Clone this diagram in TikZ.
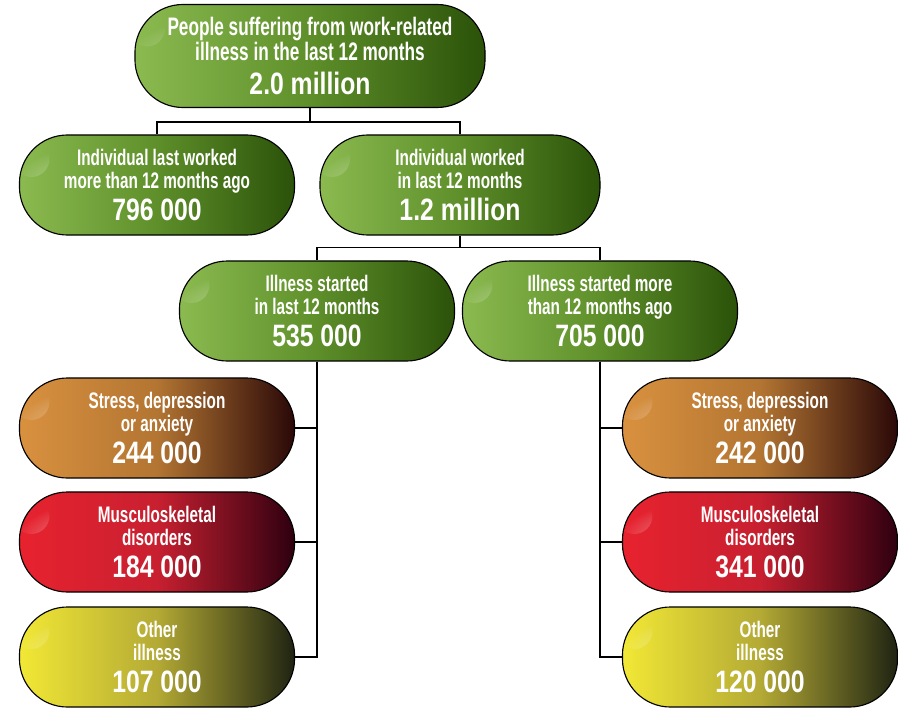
\documentclass[tikz,border=0pt]{standalone}
\usepackage{fontspec}
\newfontfamily\boxfont[FakeStretch=0.68]{Liberation Sans}
\newfontfamily\numfont[FakeStretch=0.8]{Liberation Sans}
\usetikzlibrary{fadings}

\definecolor{greenL}{HTML}{8BBA50}
\definecolor{greenM}{HTML}{5E8F2A}
\definecolor{greenR}{HTML}{2B5209}
\definecolor{orangeL}{HTML}{D9913F}
\definecolor{orangeM}{HTML}{B37532}
\definecolor{orangeR}{HTML}{2A0808}
\definecolor{redL}{HTML}{E8222F}
\definecolor{redM}{HTML}{C82030}
\definecolor{redR}{HTML}{2E0010}
\definecolor{yellowL}{HTML}{F2E835}
\definecolor{yellowM}{HTML}{B4AA35}
\definecolor{yellowR}{HTML}{1F2412}

\tikzfading[name=glint fade, inner color=transparent!0, outer color=transparent!100]

\newcommand\pillfont{\boxfont\bfseries\fontsize{16}{16.3}\selectfont\lineskiplimit=-50pt\relax}
\newcommand\topfont{\boxfont\bfseries\fontsize{18}{17.7}\selectfont\lineskiplimit=-50pt\relax}
\newcommand\bignum[1]{\\[7pt]{\numfont\bfseries\fontsize{22}{24}\selectfont #1}}

\begin{document}
\begin{tikzpicture}[
    x=0.025cm, y=-0.025cm,
    pill/.style={draw=black, line width=0.8pt, rounded corners=1.2cm,
        minimum width=6.875cm, minimum height=2.5cm, inner sep=0pt,
        align=center, text=white, font=\pillfont,
        path picture={\fill[white, path fading=glint fade]
            ([xshift=0.3cm,yshift=-0.6cm]path picture bounding box.north west) circle (0.45cm);}},
    green pill/.style={pill, left color=greenL, right color=greenR, middle color=greenM},
    orange pill/.style={pill, left color=orangeL, right color=orangeR, middle color=orangeM},
    red pill/.style={pill, left color=redL, right color=redR, middle color=redM},
    yellow pill/.style={pill, left color=yellowL, right color=yellowR, middle color=yellowM},
    link/.style={draw=black, line width=1.2pt}
]

\useasboundingbox (0,0) rectangle (898,709);

% Top level
\node[green pill, minimum width=8.75cm, minimum height=2.575cm, font=\topfont] (total) at (310,56)
    {People suffering from work-related\\illness in the last 12 months\bignum{2.0 million}};

% Second level
\node[green pill] (before) at (157,185) {Individual last worked\\more than 12 months ago\bignum{796 000}};
\node[green pill, minimum width=7cm] (worked) at (460,185) {Individual worked\\in last 12 months\bignum{1.2 million}};

% Third level
\node[green pill] (recent) at (317,311) {Illness started\\in last 12 months\bignum{535 000}};
\node[green pill] (older) at (600,311) {Illness started more\\than 12 months ago\bignum{705 000}};

% Left column
\node[orange pill] (stressA) at (157,428) {Stress, depression\\or anxiety\bignum{244 000}};
\node[red pill] (msdA) at (157,542) {Musculoskeletal\\disorders\bignum{184 000}};
\node[yellow pill] (otherA) at (157,657) {Other\\illness\bignum{107 000}};

% Right column
\node[orange pill] (stressB) at (760,428) {Stress, depression\\or anxiety\bignum{242 000}};
\node[red pill] (msdB) at (760,542) {Musculoskeletal\\disorders\bignum{341 000}};
\node[yellow pill] (otherB) at (760,657) {Other\\illness\bignum{120 000}};

% Connectors
\draw[link] (total.south) -- ++(0,14) -| (before.north);
\draw[link] (total.south) -- ++(0,14) -| (worked.north);
\draw[link] (worked.south) -- ++(0,12) -| (recent.north);
\draw[link] (worked.south) -- ++(0,12) -| (older.north);
\foreach \n in {stressA,msdA,otherA}
    \draw[link] (recent.south) |- (\n.east);
\foreach \n in {stressB,msdB,otherB}
    \draw[link] (older.south) |- (\n.west);

\end{tikzpicture}
\end{document}
